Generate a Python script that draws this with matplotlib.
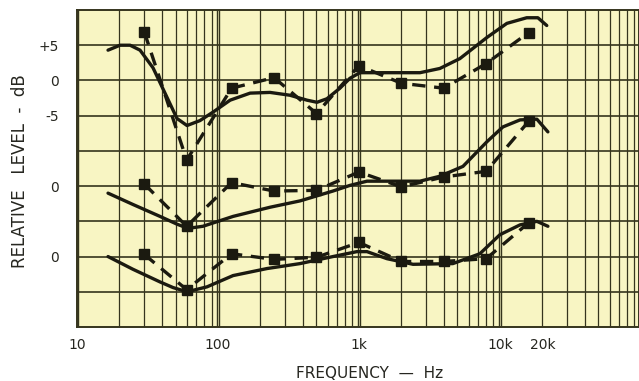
import numpy as np
import matplotlib
matplotlib.use("Agg")
import matplotlib.pyplot as plt
from matplotlib.ticker import FixedLocator, NullFormatter

# band centres for the measured points (Hz)
freqs = [30, 60, 125, 250, 500, 1000, 2000, 4000, 8000, 16000]

# each group of curves sits on its own 0 dB reference
offsets = [0, -15, -25]

# top pair
top_solid_f = [16.6, 20.2, 23.8, 28.0, 34.6, 43.5, 51.2, 60.3, 74.5, 92.2, 122, 169, 234,
               324, 428, 504, 593, 733, 863, 1016, 1257, 2710, 3750, 5200, 8090, 11200,
               15500, 18600, 21500]
top_solid_db = [4.3, 5.0, 5.0, 4.3, 1.8, -2.4, -5.4, -6.4, -5.7, -4.5, -2.8, -1.8, -1.7,
                -2.1, -2.8, -3.1, -2.6, -1.1, 0.3, 1.1, 1.1, 1.1, 1.7, 3.1, 6.1, 8.1,
                8.9, 8.9, 7.8]
top_dashed_db = [6.9, -11.3, -1.1, 0.4, -4.7, 2.1, -0.4, -1.1, 2.4, 6.8]

# middle pair
mid_solid_f = [16.6, 24.9, 38.8, 51.2, 61.3, 78.3, 128, 234, 382, 654, 863, 1140, 1950,
               2710, 3750, 5470, 8090, 10500, 13900, 18300, 21900]
mid_solid_db = [-1.0, -2.6, -4.3, -5.4, -6.0, -5.7, -4.3, -3.0, -2.1, -0.7, 0.1, 0.7, 0.7,
                0.7, 1.4, 2.8, 6.3, 8.4, 9.4, 9.5, 7.7]
mid_dashed_db = [0.3, -5.7, 0.5, -0.7, -0.6, 2.0, -0.1, 1.3, 2.1, 9.2]

# bottom pair
bot_solid_f = [16.6, 24.9, 38.8, 48.0, 60.3, 83.6, 128, 223, 382, 654, 968, 1140, 1580,
               2420, 4640, 7210, 10000, 13900, 18300, 21900]
bot_solid_db = [0.0, -1.8, -3.6, -4.4, -5.0, -4.3, -2.7, -1.7, -1.0, 0.0, 0.7, 0.7, -0.3,
                -1.1, -1.0, 0.4, 3.1, 4.5, 5.0, 4.3]
bot_dashed_db = [0.3, -4.7, 0.4, -0.4, -0.1, 2.0, -0.7, -0.7, -0.3, 4.8]

xtick_pos = [10, 100, 1000, 10000, 20000]
xtick_labels = ["10", "100", "1k", "10k", "20k"]
ytick_pos = [5, 0, -5, -15, -25]
ytick_labels = ["+5", "0", "-5", "0", "0"]

paper = "#f8f5c3"
grid_c = "#35341d"
ink = "#1b1a10"
text_c = "#262620"

fig = plt.figure(figsize=(6.39, 3.81), dpi=100)
ax = fig.add_axes([77 / 639, 1 - 327 / 381, (639 - 77) / 639, 317 / 381])
ax.set_facecolor(paper)
ax.set_xscale("log")
ax.set_xlim(10, 97000)
ax.set_ylim(-35, 10)

# graph paper grid: double lines at decades, single lines elsewhere
for dec in [10, 100, 1000, 10000]:
    for m in range(1, 10):
        f = dec * m
        if m == 1:
            ax.axvline(f * 0.985, color=grid_c, lw=1.0, zorder=1)
            ax.axvline(f * 1.015, color=grid_c, lw=1.0, zorder=1)
        else:
            ax.axvline(f, color=grid_c, lw=0.9, zorder=1)
for yv in range(-30, 10, 5):
    ax.axhline(yv, color=grid_c, lw=1.2, zorder=1)

for sf, sdb, ddb, off in [(top_solid_f, top_solid_db, top_dashed_db, offsets[0]),
                          (mid_solid_f, mid_solid_db, mid_dashed_db, offsets[1]),
                          (bot_solid_f, bot_solid_db, bot_dashed_db, offsets[2])]:
    ax.plot(sf, np.array(sdb) + off, color=ink, lw=2.4, solid_capstyle="round",
            solid_joinstyle="round", zorder=3)
    ax.plot(freqs, np.array(ddb) + off, color=ink, lw=2.4, ls=(0, (4, 2.6)),
            marker="s", ms=7, zorder=4)

ax.xaxis.set_major_locator(FixedLocator(xtick_pos))
ax.xaxis.set_minor_formatter(NullFormatter())
ax.set_xticks(xtick_pos)
ax.set_xticklabels(xtick_labels)
ax.set_yticks(ytick_pos)
ax.set_yticklabels(ytick_labels)
ax.tick_params(axis="both", which="both", length=0, labelsize=10, colors=text_c)
ax.tick_params(axis="x", pad=8)
ax.tick_params(axis="y", pad=13)

for s in ax.spines.values():
    s.set_color(grid_c)
    s.set_linewidth(1.4)

fig.text(20 / 639, 1 - 171 / 381, "RELATIVE   LEVEL  -  dB", rotation=90,
         ha="center", va="center", fontsize=12, color=text_c)
fig.text(370 / 639, 1 - 373 / 381, "FREQUENCY  \u2014  Hz", ha="center", va="center",
         fontsize=11, color=text_c)

fig.savefig("out.png", dpi=100, facecolor="white")
